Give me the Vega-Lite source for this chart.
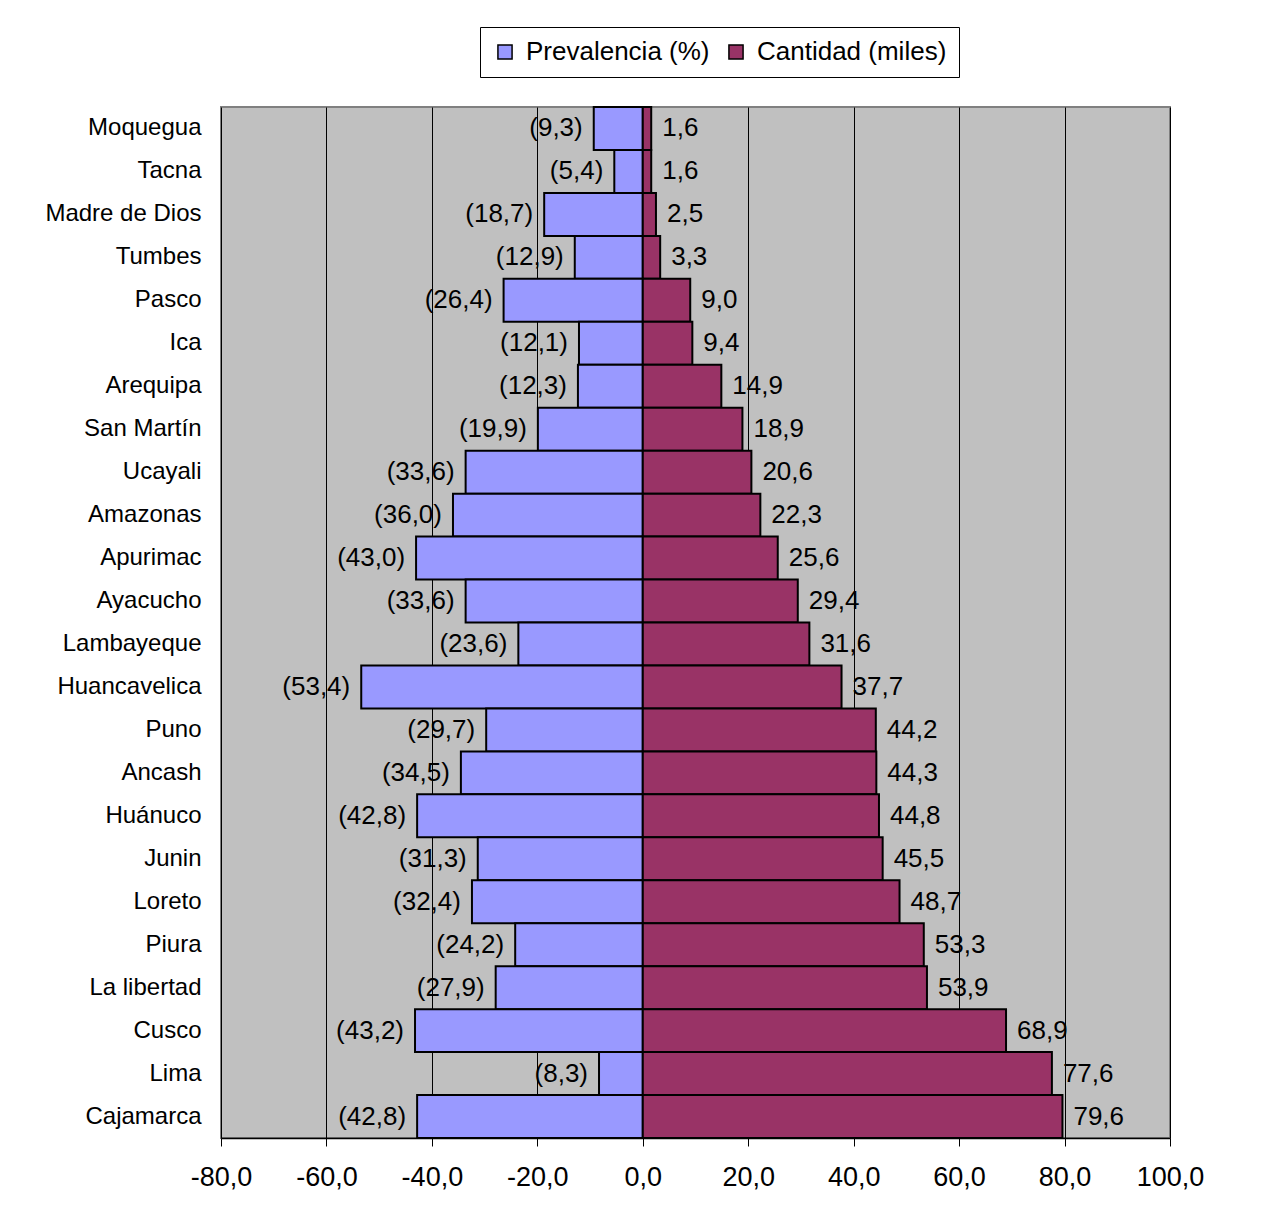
{
  "$schema": "https://vega.github.io/schema/vega-lite/v6.json",
  "width": 949,
  "height": 1031,
  "autosize": "none",
  "padding": {"left": 221, "top": 107, "right": 98, "bottom": 67},
  "background": "white",
  "config": {
    "font": "Liberation Sans",
    "locale": {"number": {"decimal": ",", "thousands": ".", "grouping": [3], "currency": ["", ""], "minus": "-"}},
    "view": {"fill": "#C0C0C0", "stroke": "#808080", "strokeWidth": 2}
  },
  "data": {
    "values": [
      {"region": "Moquegua", "order": 1, "serie": "Prevalencia (%)", "value": -9.3},
      {"region": "Moquegua", "order": 1, "serie": "Cantidad (miles)", "value": 1.6},
      {"region": "Tacna", "order": 2, "serie": "Prevalencia (%)", "value": -5.4},
      {"region": "Tacna", "order": 2, "serie": "Cantidad (miles)", "value": 1.6},
      {"region": "Madre de Dios", "order": 3, "serie": "Prevalencia (%)", "value": -18.7},
      {"region": "Madre de Dios", "order": 3, "serie": "Cantidad (miles)", "value": 2.5},
      {"region": "Tumbes", "order": 4, "serie": "Prevalencia (%)", "value": -12.9},
      {"region": "Tumbes", "order": 4, "serie": "Cantidad (miles)", "value": 3.3},
      {"region": "Pasco", "order": 5, "serie": "Prevalencia (%)", "value": -26.4},
      {"region": "Pasco", "order": 5, "serie": "Cantidad (miles)", "value": 9.0},
      {"region": "Ica", "order": 6, "serie": "Prevalencia (%)", "value": -12.1},
      {"region": "Ica", "order": 6, "serie": "Cantidad (miles)", "value": 9.4},
      {"region": "Arequipa", "order": 7, "serie": "Prevalencia (%)", "value": -12.3},
      {"region": "Arequipa", "order": 7, "serie": "Cantidad (miles)", "value": 14.9},
      {"region": "San Martín", "order": 8, "serie": "Prevalencia (%)", "value": -19.9},
      {"region": "San Martín", "order": 8, "serie": "Cantidad (miles)", "value": 18.9},
      {"region": "Ucayali", "order": 9, "serie": "Prevalencia (%)", "value": -33.6},
      {"region": "Ucayali", "order": 9, "serie": "Cantidad (miles)", "value": 20.6},
      {"region": "Amazonas", "order": 10, "serie": "Prevalencia (%)", "value": -36.0},
      {"region": "Amazonas", "order": 10, "serie": "Cantidad (miles)", "value": 22.3},
      {"region": "Apurimac", "order": 11, "serie": "Prevalencia (%)", "value": -43.0},
      {"region": "Apurimac", "order": 11, "serie": "Cantidad (miles)", "value": 25.6},
      {"region": "Ayacucho", "order": 12, "serie": "Prevalencia (%)", "value": -33.6},
      {"region": "Ayacucho", "order": 12, "serie": "Cantidad (miles)", "value": 29.4},
      {"region": "Lambayeque", "order": 13, "serie": "Prevalencia (%)", "value": -23.6},
      {"region": "Lambayeque", "order": 13, "serie": "Cantidad (miles)", "value": 31.6},
      {"region": "Huancavelica", "order": 14, "serie": "Prevalencia (%)", "value": -53.4},
      {"region": "Huancavelica", "order": 14, "serie": "Cantidad (miles)", "value": 37.7},
      {"region": "Puno", "order": 15, "serie": "Prevalencia (%)", "value": -29.7},
      {"region": "Puno", "order": 15, "serie": "Cantidad (miles)", "value": 44.2},
      {"region": "Ancash", "order": 16, "serie": "Prevalencia (%)", "value": -34.5},
      {"region": "Ancash", "order": 16, "serie": "Cantidad (miles)", "value": 44.3},
      {"region": "Huánuco", "order": 17, "serie": "Prevalencia (%)", "value": -42.8},
      {"region": "Huánuco", "order": 17, "serie": "Cantidad (miles)", "value": 44.8},
      {"region": "Junin", "order": 18, "serie": "Prevalencia (%)", "value": -31.3},
      {"region": "Junin", "order": 18, "serie": "Cantidad (miles)", "value": 45.5},
      {"region": "Loreto", "order": 19, "serie": "Prevalencia (%)", "value": -32.4},
      {"region": "Loreto", "order": 19, "serie": "Cantidad (miles)", "value": 48.7},
      {"region": "Piura", "order": 20, "serie": "Prevalencia (%)", "value": -24.2},
      {"region": "Piura", "order": 20, "serie": "Cantidad (miles)", "value": 53.3},
      {"region": "La libertad", "order": 21, "serie": "Prevalencia (%)", "value": -27.9},
      {"region": "La libertad", "order": 21, "serie": "Cantidad (miles)", "value": 53.9},
      {"region": "Cusco", "order": 22, "serie": "Prevalencia (%)", "value": -43.2},
      {"region": "Cusco", "order": 22, "serie": "Cantidad (miles)", "value": 68.9},
      {"region": "Lima", "order": 23, "serie": "Prevalencia (%)", "value": -8.3},
      {"region": "Lima", "order": 23, "serie": "Cantidad (miles)", "value": 77.6},
      {"region": "Cajamarca", "order": 24, "serie": "Prevalencia (%)", "value": -42.8},
      {"region": "Cajamarca", "order": 24, "serie": "Cantidad (miles)", "value": 79.6}
    ]
  },
  "encoding": {
    "y": {
      "field": "region",
      "type": "nominal",
      "sort": {"field": "order", "order": "ascending"},
      "scale": {"paddingInner": 0, "paddingOuter": 0},
      "axis": {
        "title": null,
        "ticks": false,
        "domain": false,
        "labelFontSize": 24,
        "labelColor": "black",
        "labelPadding": 20,
        "labelFont": "Liberation Sans"
      }
    },
    "x": {
      "field": "value",
      "type": "quantitative",
      "stack": null,
      "scale": {"domain": [-80, 100], "nice": false, "zero": false},
      "axis": {
        "title": null,
        "values": [-80, -60, -40, -20, 0, 20, 40, 60, 80, 100],
        "format": ".1f",
        "grid": true,
        "gridColor": "black",
        "gridWidth": 1,
        "gridOpacity": 1,
        "domainColor": "black",
        "domainWidth": 1.5,
        "tickColor": "black",
        "tickSize": 8,
        "tickWidth": 1,
        "labelFontSize": 27,
        "labelColor": "black",
        "labelPadding": 18,
        "labelFlush": false
      }
    }
  },
  "layer": [
    {
      "mark": {"type": "bar", "stroke": "black", "strokeWidth": 2},
      "encoding": {
        "color": {
          "field": "serie",
          "type": "nominal",
          "scale": {"domain": ["Prevalencia (%)", "Cantidad (miles)"], "range": ["#9999FF", "#993366"]},
          "legend": {
            "title": null,
            "orient": "none",
            "legendX": 259,
            "legendY": -80,
            "direction": "horizontal",
            "fillColor": "white",
            "strokeColor": "black",
            "padding": 12,
            "symbolType": "square",
            "symbolSize": 200,
            "symbolStrokeColor": "black",
            "symbolStrokeWidth": 1.5,
            "labelFontSize": 26,
            "labelColor": "black",
            "labelOffset": 8,
            "columnPadding": 13,
            "labelLimit": 400
          }
        }
      }
    },
    {
      "transform": [{"filter": "datum.value < 0"}],
      "mark": {"type": "text", "align": "right", "baseline": "middle", "dx": -11, "fontSize": 26, "color": "black"},
      "encoding": {
        "text": {"field": "value", "type": "quantitative", "format": "(.1f"}
      }
    },
    {
      "transform": [{"filter": "datum.value >= 0"}],
      "mark": {"type": "text", "align": "left", "baseline": "middle", "dx": 11, "fontSize": 26, "color": "black"},
      "encoding": {
        "text": {"field": "value", "type": "quantitative", "format": ".1f"}
      }
    }
  ]
}
